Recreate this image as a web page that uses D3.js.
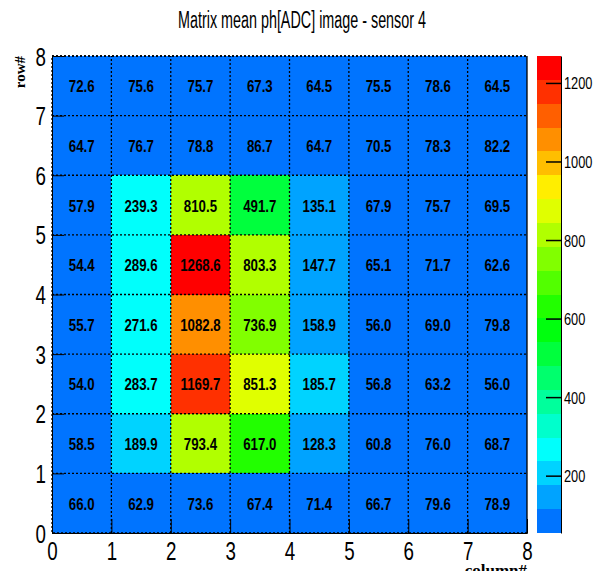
<!DOCTYPE html>
<html lang="en">
<head>
<meta charset="UTF-8">
<title>Matrix mean ph</title>
<script src="https://d3js.org/d3.v7.min.js"></script>
<style>
  body { margin: 0; background: #fff; }
  text { font-family: "Liberation Sans", Arial, sans-serif; }
</style>
</head>
<body>
<svg id="chart" width="594" height="571"></svg>
<script>
// mean ph per pixel, one array per row (row# 0 at the bottom)
const row0 = [66.0, 62.9, 73.6, 67.4, 71.4, 66.7, 79.6, 78.9];
const row1 = [58.5, 189.9, 793.4, 617.0, 128.3, 60.8, 76.0, 68.7];
const row2 = [54.0, 283.7, 1169.7, 851.3, 185.7, 56.8, 63.2, 56.0];
const row3 = [55.7, 271.6, 1082.8, 736.9, 158.9, 56.0, 69.0, 79.8];
const row4 = [54.4, 289.6, 1268.6, 803.3, 147.7, 65.1, 71.7, 62.6];
const row5 = [57.9, 239.3, 810.5, 491.7, 135.1, 67.9, 75.7, 69.5];
const row6 = [64.7, 76.7, 78.8, 86.7, 64.7, 70.5, 78.3, 82.2];
const row7 = [72.6, 75.6, 75.7, 67.3, 64.5, 75.5, 78.6, 64.5];
const rows = [row0, row1, row2, row3, row4, row5, row6, row7];

const axisTicks = [0, 1, 2, 3, 4, 5, 6, 7, 8];
const zTicks = [200, 400, 600, 800, 1000, 1200];

const cells = rows.flatMap((vals, r) => vals.map((v, c) => ({col: c, row: r, value: v})));

const svg = d3.select('#chart');

const x = d3.scaleLinear().domain([0, 8]).range([52, 527]);
const y = d3.scaleLinear().domain([0, 8]).range([533, 56]);

// 20 contour levels, rainbow from azure to red
const nLevels = 20;
const [zmin, zmax] = d3.extent(cells, d => d.value);
const hue = d3.scaleLinear().domain([0, nLevels - 1]).range([212.8, 0]);
const palette = d3.range(nLevels).map(k => d3.hsl(hue(k), 1, 0.5).formatHex());
const color = d3.scaleQuantize().domain([zmin, zmax]).range(palette);
const z = d3.scaleLinear().domain([zmin, zmax]).range([533, 56]);

// cells
svg.append('g')
  .selectAll('rect')
  .data(cells)
  .enter()
  .append('rect')
  .attr('x', d => x(d.col))
  .attr('y', d => y(d.row + 1))
  .attr('width', d => x(d.col + 1) - x(d.col))
  .attr('height', d => y(d.row) - y(d.row + 1))
  .attr('fill', d => color(d.value))
  .attr('shape-rendering', 'crispEdges');

// dotted grid
const grid = svg.append('g')
  .attr('stroke', '#000')
  .attr('stroke-width', 1.3)
  .attr('stroke-dasharray', '2,2');
grid.selectAll('.gx')
  .data(axisTicks.slice(1))
  .enter().append('line')
  .attr('x1', d => x(d)).attr('x2', d => x(d))
  .attr('y1', y(0)).attr('y2', y(8));
grid.selectAll('.gy')
  .data(axisTicks.slice(1))
  .enter().append('line')
  .attr('y1', d => y(d)).attr('y2', d => y(d))
  .attr('x1', x(0)).attr('x2', x(8));

// cell labels
svg.append('g')
  .selectAll('text')
  .data(cells)
  .enter()
  .append('text')
  .attr('transform', d => `translate(${(x(d.col) + x(d.col + 1)) / 2},${(y(d.row) + y(d.row + 1)) / 2 + 6.5}) scale(0.78,1)`)
  .attr('text-anchor', 'middle')
  .style('font-size', '17px')
  .style('font-weight', 'bold')
  .text(d => d.value.toFixed(1));

// axes, ticks pointing into the frame
const minorTicks = d3.range(0, 8.001, 0.2);
const xAxisG = svg.append('g').attr('transform', `translate(0,${y(0)})`);
xAxisG.call(d3.axisBottom(x).tickValues(minorTicks).tickSize(-7).tickFormat(''));
xAxisG.call(d3.axisBottom(x).tickValues(axisTicks).tickSize(-14).tickFormat(d3.format('d')));
const yAxisG = svg.append('g').attr('transform', `translate(${x(0)},0)`);
yAxisG.call(d3.axisLeft(y).tickValues(minorTicks).tickSize(-6).tickFormat(''));
yAxisG.call(d3.axisLeft(y).tickValues(axisTicks).tickSize(-12).tickFormat(d3.format('d')));

svg.selectAll('.domain').attr('stroke', '#000');
svg.selectAll('.tick line').attr('stroke', '#000');
xAxisG.selectAll('.tick text')
  .attr('y', 0).attr('dy', 0)
  .attr('transform', 'translate(0,27) scale(0.75,1)')
  .style('font-size', '25px')
  .attr('fill', '#000');
yAxisG.selectAll('.tick text')
  .attr('x', 0).attr('dy', 0)
  .attr('transform', 'translate(-6,9) scale(0.75,1)')
  .style('font-size', '25px')
  .attr('fill', '#000');

// top/right frame
svg.append('rect')
  .attr('x', x(0)).attr('y', y(8))
  .attr('width', x(8) - x(0)).attr('height', y(0) - y(8))
  .attr('fill', 'none')
  .attr('stroke', '#000')
  .attr('stroke-width', 1.3)
  .attr('stroke-dasharray', '2,2');

// palette
const pal = svg.append('g');
const dz = (zmax - zmin) / nLevels;
pal.selectAll('rect')
  .data(palette)
  .enter()
  .append('rect')
  .attr('x', 537)
  .attr('y', (c, k) => z(zmin + (k + 1) * dz))
  .attr('width', 24)
  .attr('height', (c, k) => z(zmin + k * dz) - z(zmin + (k + 1) * dz))
  .attr('fill', c => c)
  .attr('shape-rendering', 'crispEdges');

const zAxisG = svg.append('g').attr('transform', 'translate(561,0)');
zAxisG.call(d3.axisRight(z).tickValues(zTicks).tickSize(-15).tickSizeOuter(0).tickFormat(d3.format('d')));
zAxisG.select('.domain').attr('stroke', '#000');
zAxisG.selectAll('.tick line').attr('stroke', '#000').attr('stroke-width', 1.5);
zAxisG.selectAll('.tick text')
  .attr('x', 0).attr('dy', 0)
  .attr('transform', 'translate(3,6) scale(0.8,1)')
  .style('font-size', '16px')
  .attr('fill', '#000');

// titles
svg.append('text')
  .attr('x', 302).attr('y', 28)
  .attr('text-anchor', 'middle')
  .attr('textLength', 248)
  .attr('lengthAdjust', 'spacingAndGlyphs')
  .style('font-size', '23px')
  .text('Matrix mean ph[ADC] image - sensor 4');

svg.append('text')
  .attr('x', x(8)).attr('y', 576)
  .attr('text-anchor', 'end')
  .style('font-family', '"Liberation Serif", serif')
  .style('font-weight', 'bold')
  .style('font-size', '17px')
  .text('column#');

svg.append('text')
  .attr('transform', `translate(25,${y(8)}) rotate(-90)`)
  .attr('text-anchor', 'end')
  .style('font-family', '"Liberation Serif", serif')
  .style('font-weight', 'bold')
  .style('font-size', '15px')
  .text('row#');
</script>
</body>
</html>
